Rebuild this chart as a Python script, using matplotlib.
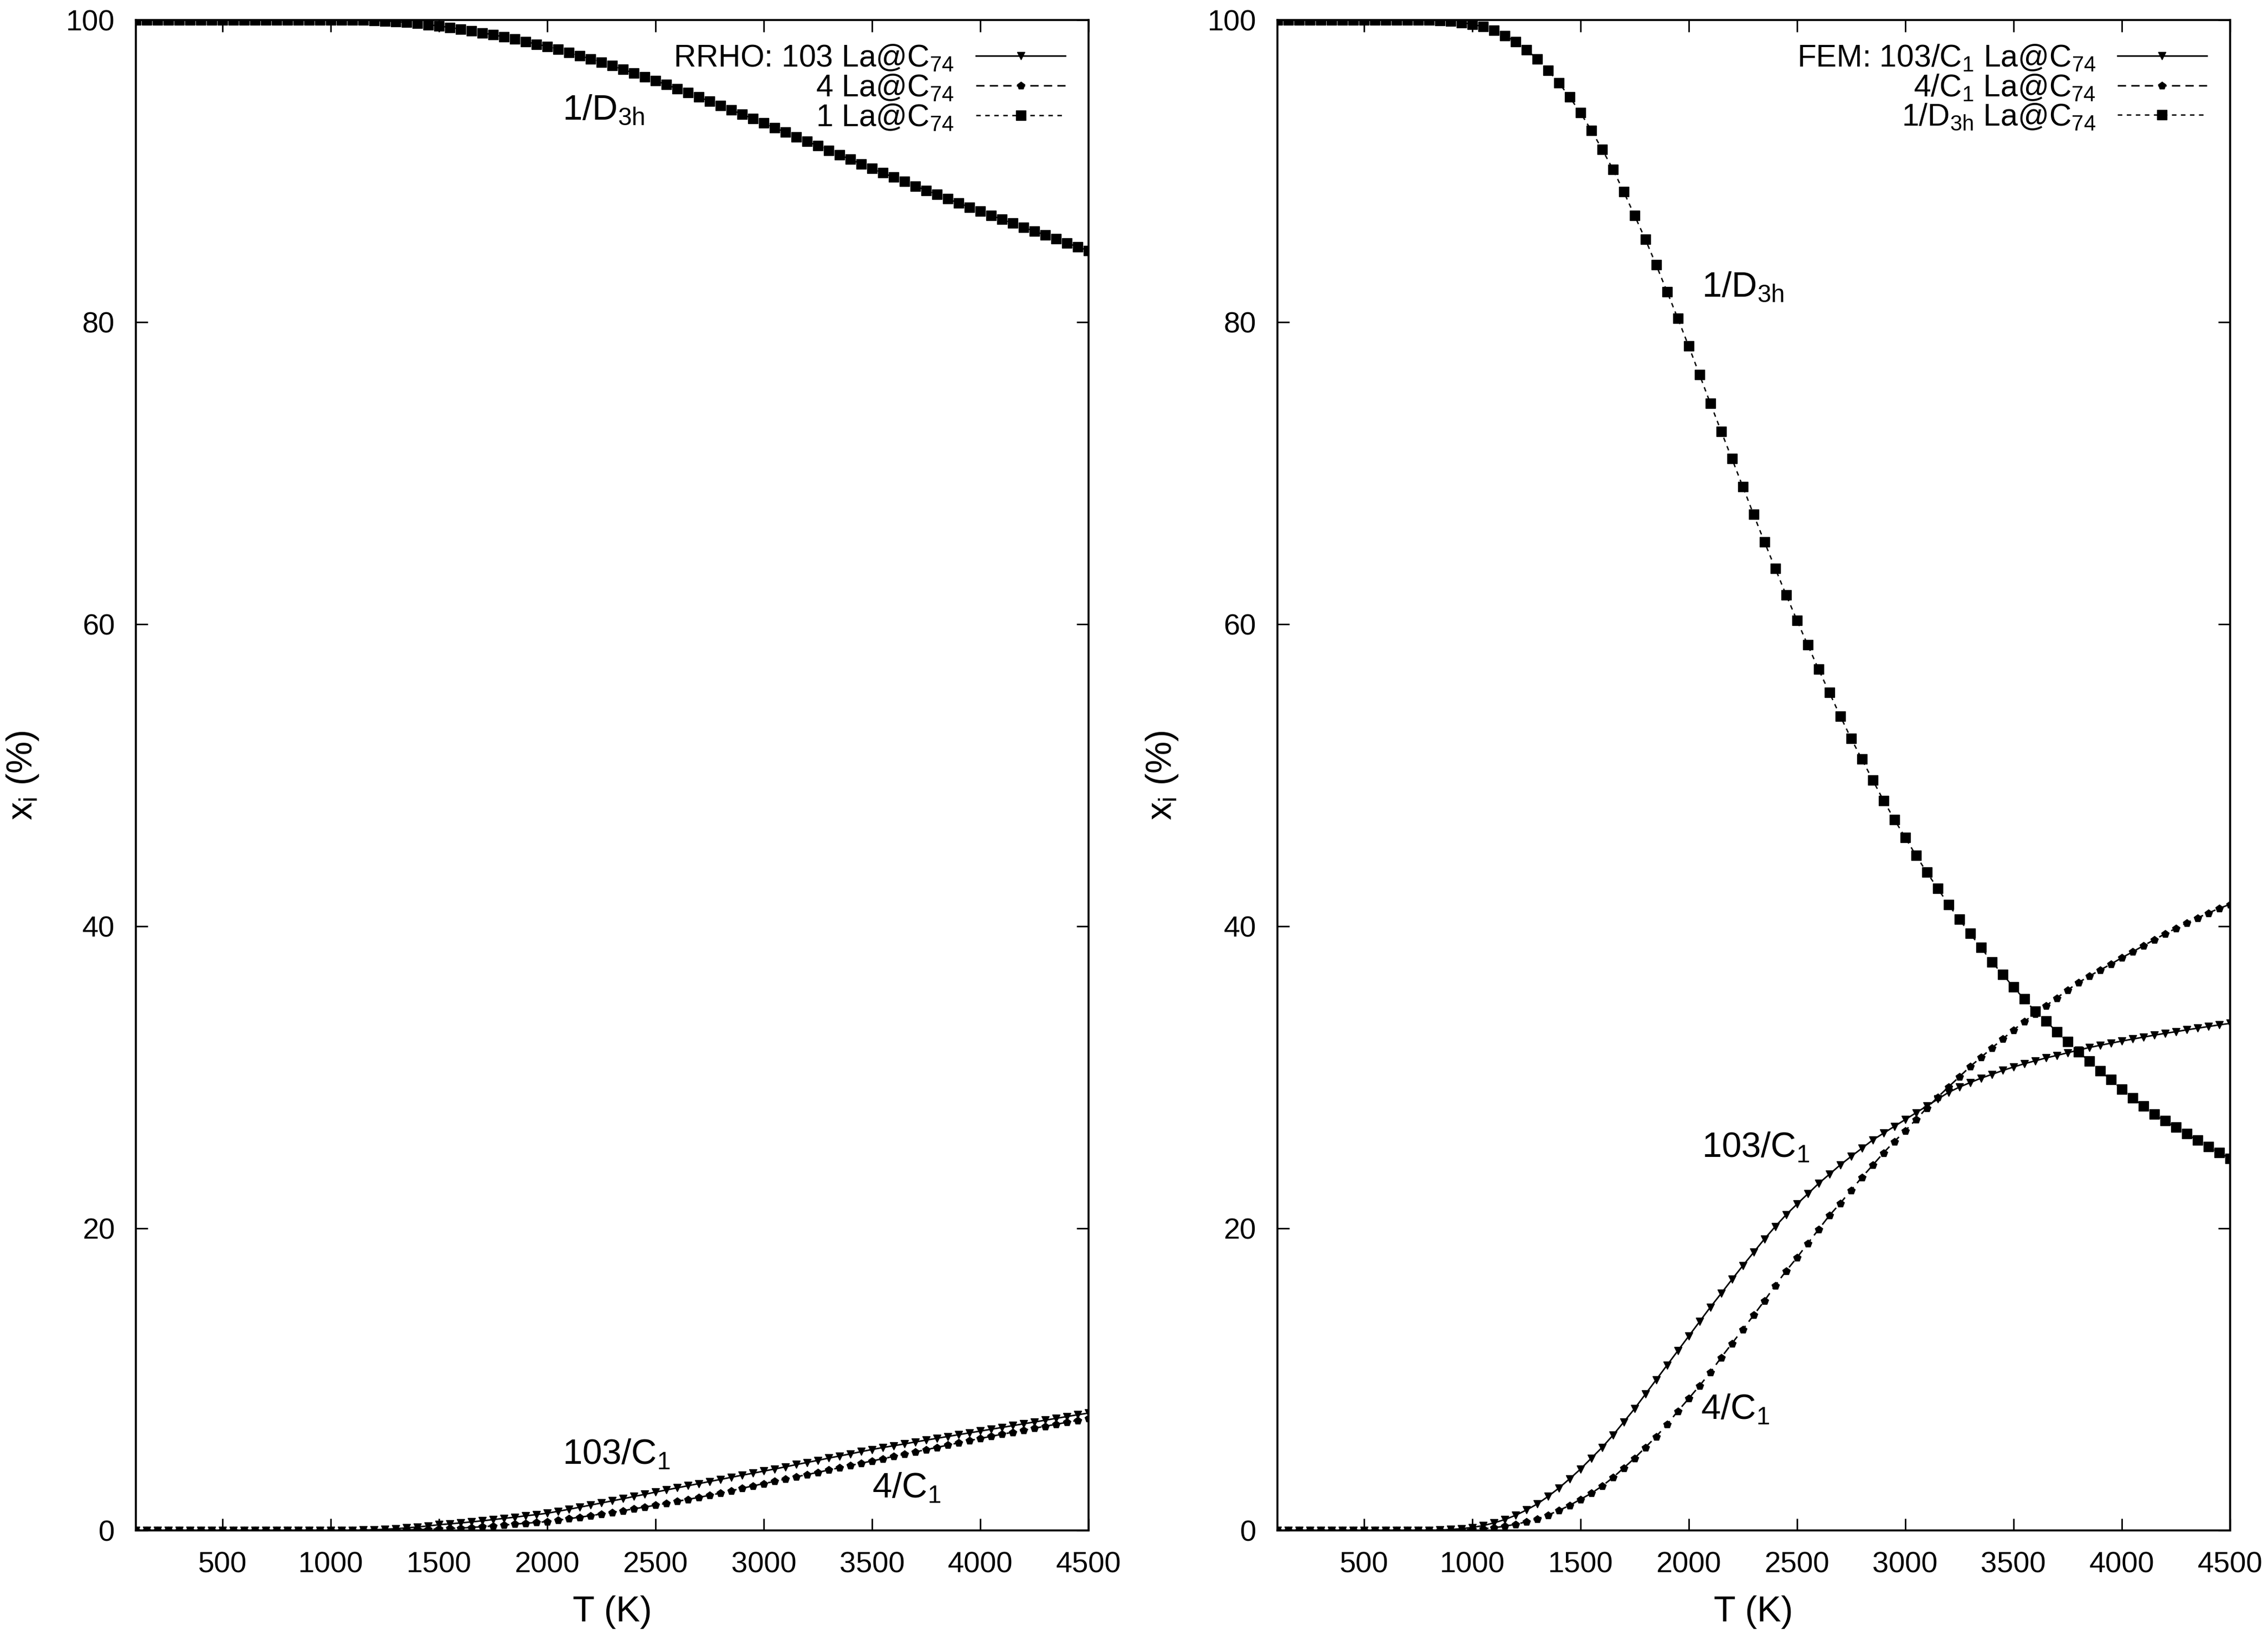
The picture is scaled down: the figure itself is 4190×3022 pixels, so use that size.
import matplotlib
matplotlib.use("Agg")
from matplotlib import pyplot as plt

plt.rcParams['font.family'] = ['Liberation Sans', 'DejaVu Sans']
plt.rcParams['mathtext.fontset'] = 'custom'
plt.rcParams['mathtext.rm'] = 'Liberation Sans'
plt.rcParams['mathtext.it'] = 'Liberation Sans:italic'
plt.rcParams['mathtext.bf'] = 'Liberation Sans:bold'
plt.rcParams['lines.scale_dashes'] = False

# temperature grid (K), one point every 50 K
T = list(range(100, 4550, 50))

# RRHO populations (%)
rrho_103 = [0.0] * 19 + [
    0.01, 0.02, 0.03, 0.05, 0.08, 0.12, 0.17, 0.23, 0.30, 0.38,
    0.44, 0.50, 0.57, 0.64, 0.72, 0.80, 0.88, 0.97, 1.05, 1.14,
    1.27, 1.40, 1.54, 1.68, 1.82, 1.96, 2.10, 2.25, 2.39, 2.54,
    2.68, 2.82, 2.96, 3.10, 3.24, 3.38, 3.52, 3.66, 3.79, 3.93,
    4.07, 4.21, 4.36, 4.50, 4.64, 4.79, 4.93, 5.07, 5.22, 5.36,
    5.49, 5.61, 5.73, 5.86, 5.98, 6.10, 6.22, 6.34, 6.46, 6.58,
    6.70, 6.82, 6.94, 7.06, 7.18, 7.30, 7.42, 7.54, 7.66, 7.77]
rrho_4 = [0.0] * 19 + [
    0.00, 0.00, 0.01, 0.01, 0.02, 0.03, 0.04, 0.06, 0.08, 0.10,
    0.13, 0.16, 0.20, 0.25, 0.30, 0.36, 0.42, 0.48, 0.53, 0.59,
    0.68, 0.78, 0.88, 0.98, 1.09, 1.20, 1.31, 1.43, 1.55, 1.67,
    1.80, 1.93, 2.06, 2.19, 2.33, 2.47, 2.63, 2.79, 2.95, 3.10,
    3.25, 3.40, 3.55, 3.70, 3.85, 4.00, 4.15, 4.30, 4.45, 4.60,
    4.75, 4.90, 5.05, 5.20, 5.35, 5.50, 5.65, 5.80, 5.95, 6.09,
    6.23, 6.37, 6.50, 6.64, 6.77, 6.90, 7.03, 7.16, 7.29, 7.42]
rrho_1 = [100.0] * 19 + [
    99.99, 99.99, 99.98, 99.96, 99.93, 99.89, 99.84, 99.77, 99.69, 99.60,
    99.50, 99.39, 99.27, 99.15, 99.02, 98.88, 98.73, 98.57, 98.40, 98.25,
    98.05, 97.85, 97.64, 97.42, 97.20, 96.97, 96.73, 96.49, 96.24, 95.98,
    95.72, 95.45, 95.18, 94.90, 94.62, 94.34, 94.05, 93.76, 93.47, 93.17,
    92.87, 92.57, 92.27, 91.97, 91.67, 91.37, 91.07, 90.77, 90.47, 90.17,
    89.88, 89.59, 89.30, 89.01, 88.72, 88.44, 88.16, 87.88, 87.61, 87.34,
    87.07, 86.80, 86.54, 86.28, 86.02, 85.76, 85.50, 85.24, 84.98, 84.73]

# FEM populations (%)
fem_103 = [0.0] * 14 + [
    0.01, 0.03, 0.06, 0.12, 0.20, 0.32, 0.50, 0.72, 1.00, 1.35,
    1.75, 2.25, 2.80, 3.42, 4.06, 4.78, 5.50, 6.30, 7.18, 8.06,
    9.02, 9.98, 10.94, 11.90, 12.86, 13.82, 14.78, 15.69, 16.62, 17.53,
    18.41, 19.30, 20.12, 20.90, 21.60, 22.28, 22.97, 23.58, 24.20, 24.76,
    25.30, 25.85, 26.30, 26.75, 27.20, 27.65, 28.10, 28.55, 29.00, 29.35,
    29.65, 29.94, 30.19, 30.45, 30.68, 30.90, 31.09, 31.28, 31.45, 31.62,
    31.80, 31.97, 32.12, 32.26, 32.40, 32.53, 32.66, 32.79, 32.91, 33.02,
    33.14, 33.25, 33.36, 33.47, 33.57]
fem_4 = [0.0] * 15 + [
    0.01, 0.02, 0.04, 0.07, 0.11, 0.18, 0.28, 0.41, 0.57, 0.77,
    1.02, 1.32, 1.66, 2.06, 2.46, 2.94, 3.50, 4.14, 4.78, 5.50,
    6.22, 7.02, 7.90, 8.73, 9.58, 10.46, 11.45, 12.38, 13.31, 14.25,
    15.21, 16.22, 17.18, 18.06, 19.00, 19.93, 20.85, 21.66, 22.52, 23.38,
    24.18, 25.00, 25.75, 26.46, 27.20, 27.97, 28.68, 29.36, 30.03, 30.71,
    31.32, 31.93, 32.54, 33.12, 33.70, 34.20, 34.73, 35.25, 35.77, 36.27,
    36.69, 37.10, 37.49, 37.91, 38.30, 38.71, 39.10, 39.50, 39.85, 40.23,
    40.55, 40.87, 41.18, 41.45]
fem_1 = [100.0] * 14 + [
    99.99, 99.96, 99.92, 99.83, 99.72, 99.55, 99.30, 98.97, 98.56, 98.04,
    97.42, 96.68, 95.85, 94.89, 93.86, 92.70, 91.44, 90.12, 88.62, 87.06,
    85.47, 83.78, 82.02, 80.23, 78.41, 76.52, 74.63, 72.77, 70.95, 69.10,
    67.26, 65.44, 63.69, 61.94, 60.26, 58.62, 57.01, 55.47, 53.92, 52.44,
    51.06, 49.68, 48.33, 47.07, 45.88, 44.69, 43.57, 42.51, 41.45, 40.45,
    39.52, 38.59, 37.65, 36.82, 35.98, 35.18, 34.37, 33.73, 33.02, 32.35,
    31.70, 31.06, 30.42, 29.84, 29.23, 28.65, 28.10, 27.56, 27.12, 26.69,
    26.26, 25.83, 25.42, 25.02, 24.63]

rrho_labels = ['RRHO: 103 La@C$_{\\mathrm{74}}$', '4 La@C$_{\\mathrm{74}}$',
               '1 La@C$_{\\mathrm{74}}$']
fem_labels = ['FEM: 103/C$_{\\mathrm{1}}$ La@C$_{\\mathrm{74}}$',
              '4/C$_{\\mathrm{1}}$ La@C$_{\\mathrm{74}}$',
              '1/D$_{\\mathrm{3h}}$ La@C$_{\\mathrm{74}}$']

# (text, T, x_i) for curve names written inside the plots
rrho_notes = [('1/D$_{\\mathrm{3h}}$', 2070, 93.4),
              ('103/C$_{\\mathrm{1}}$', 2070, 4.4),
              ('4/C$_{\\mathrm{1}}$', 3500, 2.15)]
fem_notes = [('1/D$_{\\mathrm{3h}}$', 2060, 81.7),
             ('103/C$_{\\mathrm{1}}$', 2060, 24.7),
             ('4/C$_{\\mathrm{1}}$', 2055, 7.35)]

TICK_FS = 39
LEG_FS = 41
LABEL_FS = 48
NOTE_FS = 47

fig = plt.figure(figsize=(41.9, 30.22), dpi=100)
ax1 = fig.add_axes([0.0599, 0.0645, 0.4200, 0.9233])
ax2 = fig.add_axes([0.5632, 0.0645, 0.4200, 0.9233])


def draw(ax, s103, s4, s1, labels, notes, ylab_x):
    ax.plot(T, s103, color='black', lw=2.0, ls='-', marker='v', ms=10,
            label=labels[0])
    ax.plot(T, s4, color='black', lw=2.0, ls=(0, (11, 7)), marker='p', ms=10,
            label=labels[1])
    ax.plot(T, s1, color='black', lw=1.8, ls=(0, (6, 6)), marker='s', ms=13,
            label=labels[2])
    ax.set_xlim(100, 4500)
    ax.set_ylim(0, 100)
    ax.set_xticks(range(500, 4501, 500))
    ax.set_yticks(range(0, 101, 20))
    ax.tick_params(direction='in', top=True, right=True, length=16, width=2,
                   labelsize=TICK_FS, pad=28)
    for sp in ax.spines.values():
        sp.set_linewidth(2.6)
    ax.set_xlabel('T (K)', fontsize=LABEL_FS)
    ax.set_ylabel('x$_{\\mathrm{i}}$ (%)', fontsize=LABEL_FS)
    ax.xaxis.set_label_coords(0.5, -0.043)
    ax.yaxis.set_label_coords(ylab_x, 0.5)
    for txt, tx, ty in notes:
        ax.text(tx, ty, txt, fontsize=NOTE_FS, va='baseline', ha='left')
    ax.legend(loc='upper right', frameon=False, markerfirst=False,
              fontsize=LEG_FS, handlelength=2.9, numpoints=1,
              labelspacing=0.0, borderaxespad=0.35, handletextpad=0.7)


draw(ax1, rrho_103, rrho_4, rrho_1, rrho_labels, rrho_notes, -0.100)
draw(ax2, fem_103, fem_4, fem_1, fem_labels, fem_notes, -0.102)

fig.savefig('out.png', dpi=100)
